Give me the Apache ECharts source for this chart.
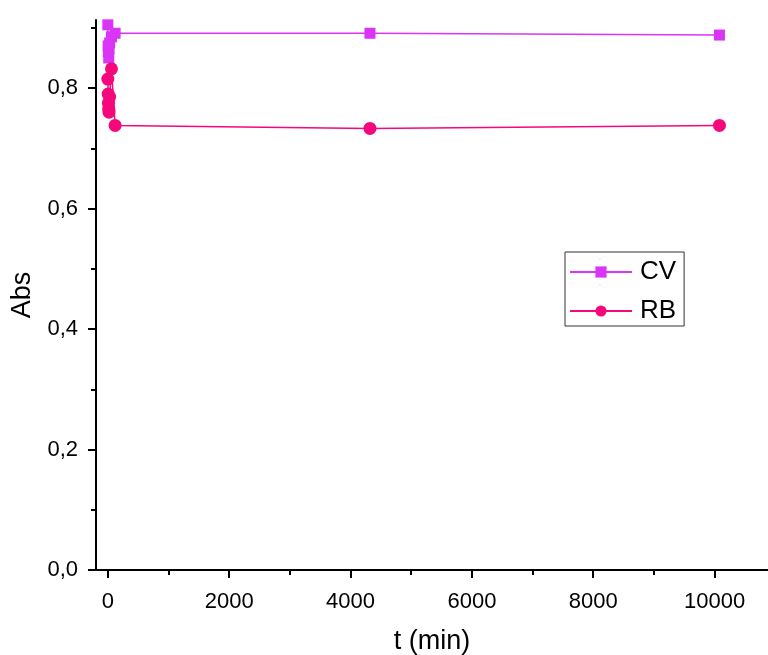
<!DOCTYPE html>
<html>
<head>
<meta charset="utf-8">
<script src="https://cdn.jsdelivr.net/npm/echarts@6/dist/echarts.min.js"></script>
<style>
  html, body { margin: 0; padding: 0; background: #fff; }
  #chart { width: 768px; height: 655px; }
</style>
</head>
<body>
<div id="chart"></div>
<script>
// Sampling times (min)
const times = [0, 5, 10, 15, 20, 30, 60, 120, 4320, 10080];
// Absorbance of each dye
const cvAbs = [0.905, 0.870, 0.860, 0.850, 0.865, 0.875, 0.885, 0.891, 0.891, 0.888];
const rbAbs = [0.815, 0.790, 0.775, 0.765, 0.760, 0.785, 0.832, 0.738, 0.733, 0.738];

const xMajor = [0, 2000, 4000, 6000, 8000, 10000];
const xMinor = [1000, 3000, 5000, 7000, 9000];
const yMajor = [0, 0.2, 0.4, 0.6, 0.8];
const yMinor = [0.1, 0.3, 0.5, 0.7, 0.9];

const CV_COLOR = '#DA34F6';
const RB_COLOR = '#F5087C';
const FONT = 'Liberation Sans, Arial, sans-serif';

const X_MIN = -195, X_MAX = 10880, Y_MIN = 0, Y_MAX = 0.913;

const pairs = (xs, ys) => xs.map((x, i) => [x, ys[i]]);

const chart = echarts.init(document.getElementById('chart'), null, { renderer: 'canvas' });

const baseX = {
  type: 'value', min: X_MIN, max: X_MAX, position: 'bottom',
  splitLine: { show: false }
};
const baseY = {
  type: 'value', min: Y_MIN, max: Y_MAX, position: 'left',
  splitLine: { show: false }
};

chart.setOption({
  animation: false,
  backgroundColor: '#ffffff',
  grid: { left: 96, right: 0, top: 20, bottom: 85, containLabel: false, outerBoundsMode: 'none' },
  xAxis: [
    Object.assign({}, baseX, {
      name: 't (min)', nameLocation: 'middle', nameGap: 58,
      nameTextStyle: { fontFamily: FONT, fontSize: 27, color: '#000' },
      axisLine: { show: true, onZero: false, lineStyle: { color: '#000', width: 2 } },
      axisTick: { show: true, inside: false, length: 8, lineStyle: { color: '#000', width: 2 }, customValues: xMajor },
      axisLabel: {
        show: true, margin: 21, fontFamily: FONT, fontSize: 22, color: '#000', customValues: xMajor,
        formatter: v => String(v)
      }
    }),
    Object.assign({}, baseX, {
      axisLine: { show: false, onZero: false },
      axisTick: { show: true, inside: false, length: 5, lineStyle: { color: '#000', width: 2 }, customValues: xMinor },
      axisLabel: { show: false }
    })
  ],
  yAxis: [
    Object.assign({}, baseY, {
      name: 'Abs', nameLocation: 'middle', nameGap: 58, nameRotate: 90,
      nameTextStyle: { fontFamily: FONT, fontSize: 27, color: '#000' },
      axisLine: { show: true, onZero: false, lineStyle: { color: '#000', width: 2 } },
      axisTick: { show: true, inside: false, length: 8, lineStyle: { color: '#000', width: 2 }, customValues: yMajor },
      axisLabel: {
        show: true, margin: 18, fontFamily: FONT, fontSize: 22, color: '#000', customValues: yMajor,
        formatter: v => v.toFixed(1).replace('.', ',')
      }
    }),
    Object.assign({}, baseY, {
      axisLine: { show: false, onZero: false },
      axisTick: { show: true, inside: false, length: 5, lineStyle: { color: '#000', width: 2 }, customValues: yMinor },
      axisLabel: { show: false }
    })
  ],
  legend: {
    orient: 'vertical', left: 565, top: 252,
    data: ['CV', 'RB'],
    itemWidth: 62, itemHeight: 14, itemGap: 13,
    padding: [7, 8, 2, 4],
    borderColor: '#333', borderWidth: 1, borderRadius: 0,
    textStyle: { fontFamily: FONT, fontSize: 26, lineHeight: 26, color: '#000', padding: [0, 0, 0, 3] }
  },
  series: [
    {
      name: 'CV', type: 'line', data: pairs(times, cvAbs),
      symbol: 'rect', symbolSize: 11,
      itemStyle: { color: CV_COLOR },
      lineStyle: { color: CV_COLOR, width: 1.5 }
    },
    {
      name: 'RB', type: 'line', data: pairs(times, rbAbs),
      symbol: 'circle', symbolSize: 13,
      itemStyle: { color: RB_COLOR },
      lineStyle: { color: RB_COLOR, width: 1.5 }
    }
  ]
});
</script>
</body>
</html>
